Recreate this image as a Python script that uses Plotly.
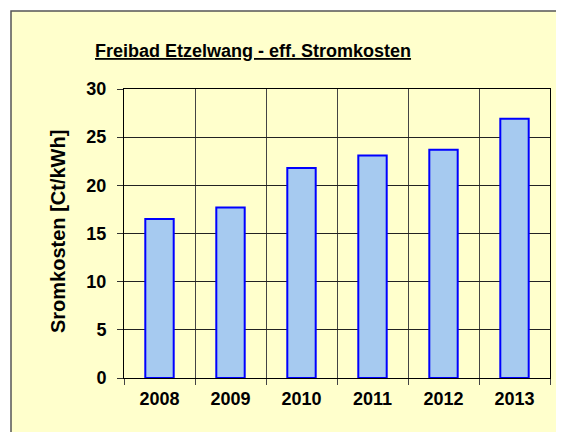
import plotly.graph_objects as go

years = ["2008", "2009", "2010", "2011", "2012", "2013"]
costs = [16.5, 17.7, 21.8, 23.1, 23.7, 26.9]
y_ticks = [0, 5, 10, 15, 20, 25, 30]

title_text = "Freibad Etzelwang - eff. Stromkosten"
y_title = "Sromkosten [Ct/kWh]"

W, H = 564, 432
OFF = 8  # page body margin shifts the figure on screen
# target plot area on screen: x 124..550, y 89..378
L = 124 - OFF
T = 89 - OFF
R = W - (550 - OFF)
B = H - (378 - OFF)
pw = W - L - R
ph = H - T - B

def px_x(p):  # screen px -> paper
    return (p - OFF - L) / pw

def px_y(p):
    return (H - B - (p - OFF)) / ph

FONT = "Liberation Sans, Arial, sans-serif"
BG = "#FFFFCC"

fig = go.Figure()
fig.add_trace(go.Bar(
    x=years, y=costs,
    marker=dict(color="#A6CAF0", line=dict(color="#0000FF", width=2)),
    hoverinfo="x+y",
))

fig.update_layout(
    width=W, height=H,
    margin=dict(l=L, r=R, t=T, b=B, pad=0),
    paper_bgcolor="white",
    plot_bgcolor=BG,
    bargap=0.6,
    showlegend=False,
    font=dict(family=FONT, size=18, color="black"),
    xaxis=dict(
        type="category", tickson="boundaries",
        showgrid=True, gridcolor="#444444", gridwidth=1,
        ticks="outside", ticklen=6, tickcolor="#444444",
        showline=True, linecolor="black", linewidth=1, mirror=True,
        tickfont=dict(family=FONT, size=18, color="black", weight="bold"),
        ticklabelstandoff=4,
        fixedrange=True, automargin=False,
    ),
    yaxis=dict(
        range=[0, 30], tickvals=y_ticks,
        showgrid=True, gridcolor="#222222", gridwidth=1,
        ticks="outside", ticklen=6, tickcolor="#333333",
        showline=True, linecolor="black", linewidth=1, mirror=True,
        zeroline=False,
        tickfont=dict(family=FONT, size=18, color="black", weight="bold"),
        ticklabelstandoff=7,
        fixedrange=True, automargin=False,
    ),
    shapes=[dict(
        type="rect", xref="paper", yref="paper",
        x0=px_x(11), x1=px_x(W + 20), y0=px_y(H + 20), y1=px_y(11),
        fillcolor=BG, line=dict(color="#555555", width=1.5), layer="below",
    )],
    annotations=[
        dict(text="<b><u>" + title_text + "</u></b>", xref="paper", yref="paper",
             x=px_x(253), y=px_y(51), xanchor="center", yanchor="middle",
             showarrow=False, font=dict(family=FONT, size=18, color="black")),
        dict(text="<b>" + y_title + "</b>", xref="paper", yref="paper",
             x=px_x(58), y=px_y(232), xanchor="center", yanchor="middle",
             textangle=-90, showarrow=False,
             font=dict(family=FONT, size=20, color="black")),
    ],
)

fig.write_html("out.html")
